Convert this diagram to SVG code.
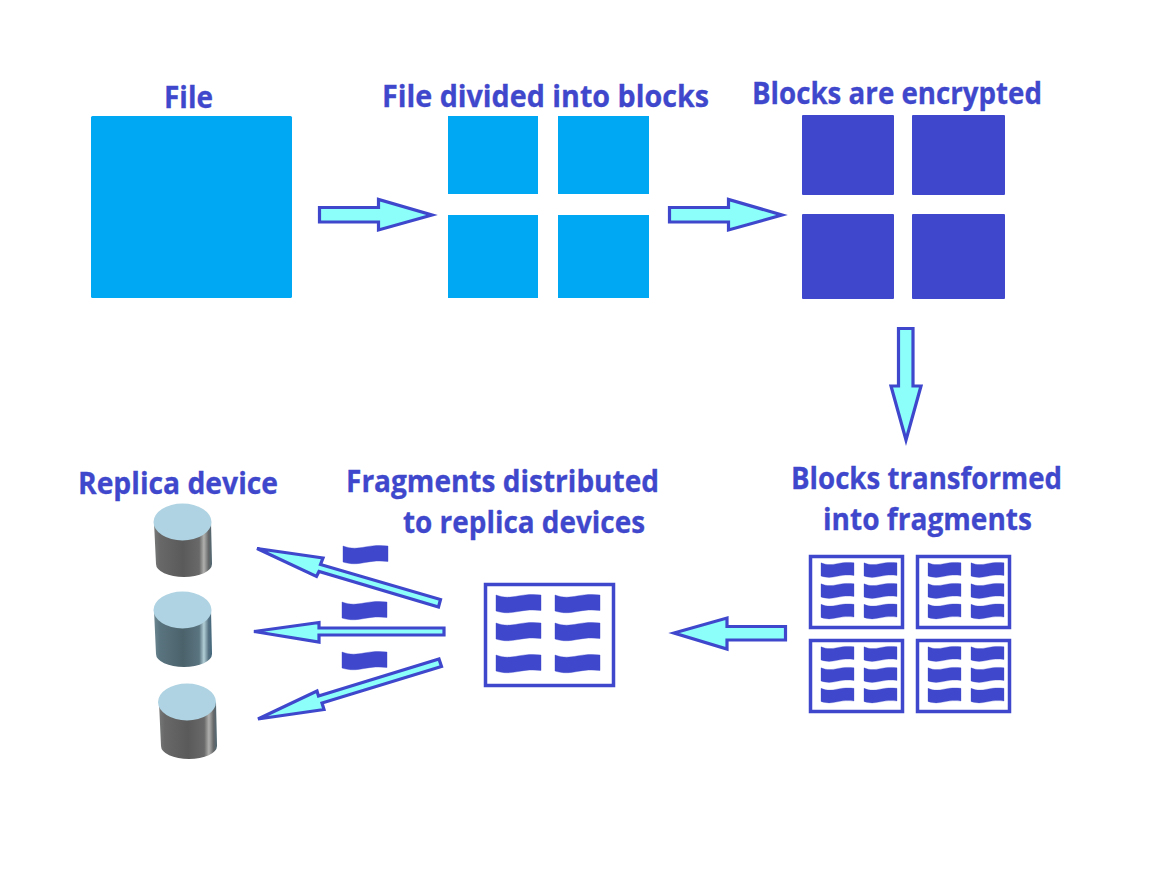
<svg xmlns="http://www.w3.org/2000/svg" xmlns:xlink="http://www.w3.org/1999/xlink" width="1153" height="871" viewBox="0 0 1153 871">
<style>
.t{font-family:"Open Sans","Noto Sans","Liberation Sans",sans-serif;font-weight:700;font-size:30px;fill:#3f48cc;stroke:#3f48cc;stroke-width:.3}
.l{fill:#00a8f3}
.d{fill:#3f48cc}
.a{fill:#8cfffb;stroke:#3f48cc;stroke-width:3.200;stroke-linejoin:miter}
.b{fill:#fff;stroke:#3f48cc;stroke-width:3.500}
.top{fill:#afd3e2}
</style>
<defs>
<path id="w" d="M0 1C8 4 14 3.500 22 2C30 .5 37 0 45 1L45 16.500C37 15.500 30 16 22 17.500C14 19 8 19.500 0 17Z" fill="#3f48cc" stroke="#3f48cc" stroke-width=".4"/>
<g id="f">
<use xlink:href="#w" transform="translate(12 7) scale(.733 .82)"/>
<use xlink:href="#w" transform="translate(55 7) scale(.733 .82)"/>
<use xlink:href="#w" transform="translate(12 28) scale(.733 .82)"/>
<use xlink:href="#w" transform="translate(55 28) scale(.733 .82)"/>
<use xlink:href="#w" transform="translate(12 48.500) scale(.733 .82)"/>
<use xlink:href="#w" transform="translate(55 48.500) scale(.733 .82)"/>
</g>
<linearGradient id="g1"><stop offset="0" stop-color="#777879"/><stop offset=".1" stop-color="#686868"/><stop offset=".5" stop-color="#5a5a5b"/><stop offset=".78" stop-color="#696969"/><stop offset=".86" stop-color="#b0b0ae"/><stop offset=".94" stop-color="#666869"/><stop offset="1" stop-color="#4d6470"/></linearGradient>
<linearGradient id="g2"><stop offset="0" stop-color="#6d8791"/><stop offset=".1" stop-color="#5a747f"/><stop offset=".5" stop-color="#4b626b"/><stop offset=".78" stop-color="#5a7480"/><stop offset=".86" stop-color="#b2ced6"/><stop offset=".94" stop-color="#587484"/><stop offset="1" stop-color="#3f6478"/></linearGradient>
</defs>
<rect width="1153" height="871" fill="#fff"/>
<g id="file"><text class="t" x="164" y="108" textLength="49" lengthAdjust="spacingAndGlyphs">File</text><rect class="l" x="91" y="116" width="201" height="182" rx="1.500"/></g>
<g id="divided"><text class="t" x="382" y="107" textLength="327" lengthAdjust="spacingAndGlyphs">File divided into blocks</text>
<rect class="l" x="448" y="116" width="90" height="78"/><rect class="l" x="558" y="116" width="91" height="78"/><rect class="l" x="448" y="215" width="90" height="83"/><rect class="l" x="558" y="215" width="91" height="83"/></g>
<g id="encrypted"><text class="t" x="752" y="104" textLength="290" lengthAdjust="spacingAndGlyphs">Blocks are encrypted</text>
<rect class="d" x="802" y="115" width="92" height="80" rx="1"/><rect class="d" x="912" y="115" width="93" height="80" rx="1"/><rect class="d" x="802" y="214" width="92" height="85" rx="1"/><rect class="d" x="912" y="214" width="93" height="85" rx="1"/></g>
<g id="transformed"><text class="t" x="791" y="489" textLength="271" lengthAdjust="spacingAndGlyphs">Blocks transformed</text><text class="t" x="823" y="530" textLength="209" lengthAdjust="spacingAndGlyphs">into fragments</text>
<g transform="translate(809 555)"><rect class="b" x="1.500" y="1.500" width="92" height="71"/><use xlink:href="#f"/></g>
<g transform="translate(916 555)"><rect class="b" x="1.500" y="1.500" width="92" height="71"/><use xlink:href="#f"/></g>
<g transform="translate(809 639)"><rect class="b" x="1.500" y="1.500" width="92" height="71"/><use xlink:href="#f"/></g>
<g transform="translate(916 639)"><rect class="b" x="1.500" y="1.500" width="92" height="71"/><use xlink:href="#f"/></g></g>
<g id="distributed"><text class="t" x="346" y="492" textLength="313" lengthAdjust="spacingAndGlyphs">Fragments distributed</text><text class="t" x="403" y="533" textLength="242" lengthAdjust="spacingAndGlyphs">to replica devices</text>
<rect class="b" x="485.500" y="584.500" width="128" height="101"/>
<use xlink:href="#w" transform="translate(496 594)"/><use xlink:href="#w" transform="translate(555 594)"/><use xlink:href="#w" transform="translate(496 622)"/><use xlink:href="#w" transform="translate(555 622)"/><use xlink:href="#w" transform="translate(496 654)"/><use xlink:href="#w" transform="translate(555 654)"/>
<use xlink:href="#w" transform="translate(343 545)"/><use xlink:href="#w" transform="translate(342 601)"/><use xlink:href="#w" transform="translate(342 651)"/></g>
<g id="replica"><text class="t" x="78" y="494" textLength="200" lengthAdjust="spacingAndGlyphs">Replica device</text>
<g><path d="M154 522L156 564A28 13 0 0 0 212 564L211 522Z" fill="url(#g1)"/><ellipse class="top" cx="182.500" cy="522" rx="29" ry="18.500"/></g>
<g transform="translate(0 88)"><path d="M154 522L156 566A28 13 0 0 0 212 566L211 522Z" fill="url(#g2)"/><ellipse class="top" cx="182.500" cy="522" rx="29" ry="18.500"/></g>
<g transform="translate(5 180)"><path d="M154 522L156 566A28 13 0 0 0 212 566L211 522Z" fill="url(#g1)"/><ellipse class="top" cx="182" cy="522" rx="29" ry="18.500"/></g></g>
<g id="connectors">
<path class="a" d="M319.500 207.500H378.500V199.500L432 215L378.500 230V222H319.500Z"/>
<path class="a" d="M669.500 207.500H728.500V199.500L782 215L728.500 230V222H669.500Z"/>
<path class="a" d="M898.500 328.500H913V386H921L906 440L891 386H898.500Z"/>
<path class="a" d="M785.500 626.500V640H727V649L674 633L727 618V626.500Z"/>
<path class="a" d="M440.500 599.500L438.500 607L319 571.500L316.500 576.500L257 548.500L323 558L320.500 564.500Z"/>
<path class="a" d="M444 628V635H319V642L254 631.500L319 622.500V628Z"/>
<path class="a" d="M439 659L441.500 666.500L322 703L324 709.500L258 719L317 691L318.500 696Z"/>
</g>
</svg>
